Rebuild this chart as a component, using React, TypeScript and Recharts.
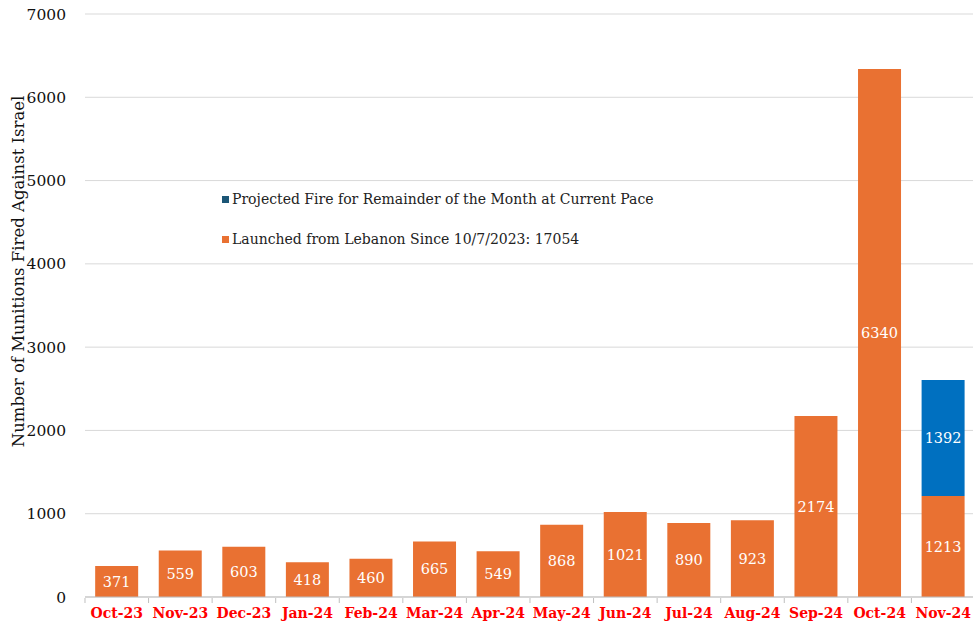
import { BarChart, Bar, XAxis, YAxis, CartesianGrid, LabelList, Label } from 'recharts';

const months = ['Oct-23', 'Nov-23', 'Dec-23', 'Jan-24', 'Feb-24', 'Mar-24', 'Apr-24', 'May-24', 'Jun-24', 'Jul-24', 'Aug-24', 'Sep-24', 'Oct-24', 'Nov-24'];
const launched = [371, 559, 603, 418, 460, 665, 549, 868, 1021, 890, 923, 2174, 6340, 1213];
const projected = [null, null, null, null, null, null, null, null, null, null, null, null, null, 1392];
const yTicks = [0, 1000, 2000, 3000, 4000, 5000, 6000, 7000];

const data = months.map((m, i) => ({ month: m, launched: launched[i], projected: projected[i] }));

const FONT = '"DejaVu Serif", "Liberation Serif", serif';
const ORANGE = '#E97132';
const BLUE = '#0070C0';

const legendItems = [
  { label: 'Projected Fire for Remainder of the Month at Current Pace', color: '#1B5676' },
  { label: 'Launched from Lebanon Since 10/7/2023: 17054', color: ORANGE },
];

function MonthTick(props: any) {
  const { x, y, payload } = props;
  const half = 31.8;
  return (
    <g>
      <line x1={x - half} y1={y - 7} x2={x - half} y2={y - 2} stroke="#BFBFBF" />
      <text x={x} y={y + 13} textAnchor="middle" fill="#FF0000" fontFamily={FONT} fontWeight="bold" fontSize={14}>
        {payload.value}
      </text>
    </g>
  );
}

function YTitle(props: any) {
  const vb = props.viewBox;
  const cx = 18;
  const cy = vb.y + vb.height / 2 - 34;
  return (
    <text x={cx} y={cy} transform={`rotate(-90, ${cx}, ${cy})`} textAnchor="middle" dominantBaseline="central" fill="#111" fontFamily={FONT} fontSize={16.5}>
      Number of Munitions Fired Against Israel
    </text>
  );
}

export default function App() {
  return (
    <div style={{ position: 'absolute', left: 0, top: 0, width: 973, height: 625, background: '#fff', overflow: 'hidden' }}>
      <BarChart width={975} height={625} data={data} margin={{ top: 14, right: 0, bottom: 0, left: 0 }} barCategoryGap="16%">
        <CartesianGrid vertical={false} stroke="#D9D9D9" />
        <XAxis dataKey="month" height={28} tick={<MonthTick />} tickLine={false} axisLine={{ stroke: '#BFBFBF' }} interval={0} />
        <YAxis
          width={85}
          domain={[0, 7000]}
          ticks={yTicks}
          tickLine={false}
          axisLine={false}
          tickMargin={13}
          tick={{ fill: '#111', fontFamily: FONT, fontSize: 15.5 }}
        >
          <Label content={<YTitle />} />
        </YAxis>
        <Bar dataKey="launched" stackId="a" fill={ORANGE} isAnimationActive={false}>
          <LabelList dataKey="launched" position="center" fill="#fff" fontFamily={FONT} fontSize={14.5} />
        </Bar>
        <Bar dataKey="projected" stackId="a" fill={BLUE} isAnimationActive={false}>
          <LabelList dataKey="projected" position="center" fill="#fff" fontFamily={FONT} fontSize={14.5} />
        </Bar>
      </BarChart>
      <div style={{ position: 'absolute', left: 222, top: 179, fontFamily: FONT, fontSize: 14, color: '#222' }}>
        {legendItems.map((it) => (
          <div key={it.label} style={{ display: 'flex', alignItems: 'center', height: 40, whiteSpace: 'nowrap' }}>
            <span style={{ width: 7, height: 7, background: it.color, marginRight: 3, display: 'inline-block' }} />
            <span>{it.label}</span>
          </div>
        ))}
      </div>
    </div>
  );
}
